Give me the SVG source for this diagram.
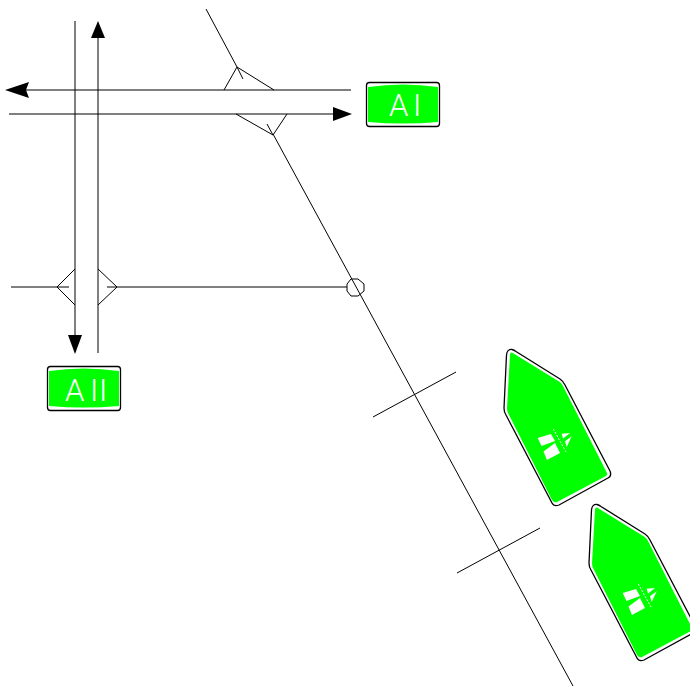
<svg xmlns="http://www.w3.org/2000/svg" width="690" height="687" viewBox="0 0 690 687">
<style>
.l{fill:none;stroke:#000;stroke-width:1}
.h{fill:#000}
.o{fill:#fff;stroke:#000;stroke-width:1.300}
.g{fill:#0f0}
.w{fill:#fff}
.t{font-family:"Roboto","Liberation Sans",sans-serif;font-weight:300;font-size:31px;fill:#fff}
</style>
<defs>
<g id="mw">
<path class="o" d="M506.500 355Q507 349 512 349.500Q514 350 516 351.500L560 379Q563 381 565 385L610 471Q612 476 608 478L559 505Q554 507 552 503L506 415Q504 412 504 408Z"/>
<path class="g" d="M512 352.500L559 381.500Q562 383 563 386L607 473Q607.500 475 606 476L557 502Q554 503 552 500L508 413Q507 411 507 408L510 355Q510 352 512 352.500Z"/>
<path class="w" d="M537.700 438L551 434L555 441L541.500 446Z"/>
<path class="w" d="M543.500 451.500L555 443L560 453L547 460Z"/>
<path class="w" d="M561.700 433.700L570 433L563 438.500Z"/>
<path class="w" d="M565 441.300L571.700 436.300L566.700 447Z"/>
<path fill="none" stroke="#fff" stroke-width="1" stroke-dasharray="2 1.500" d="M553.300 429L566 452"/>
</g>
</defs>
<g id="connectors">
<path class="l" d="M206 9L237 67M273 134L573 686"/>
<path class="l" d="M11 287H57M117 287H347"/>
<path class="l" d="M456 372L373 417M540 528L457 573"/>
<path class="l" d="M351 90H24M9 114H336"/>
<path class="l" d="M75 21V337M98 37V353"/>
<path class="l" d="M224 90L237 67L274 90M236 114L273 135L287 114M237 67L243 79M273 135L267 124"/>
<path class="l" d="M75 269L57 287L75 305M98 269L117 287L98 305M57 287H69M117 287H107"/>
<path class="l" d="M351 279L358 279L364 284L364 291L358 296L351 296L347 291L347 284Z"/>
<path class="h" d="M5 90L29 82L26 90L29 98Z"/>
<path class="h" d="M352 114L333 107V121Z"/>
<path class="h" d="M98 21L91 38H105Z"/>
<path class="h" d="M75 354L68 335H82Z"/>
</g>
<g id="sign-a1">
<rect class="o" x="366.500" y="82.500" width="73" height="44" rx="3"/>
<path class="g" d="M368 87Q403 82 438 87V122Q403 125 368 122Z"/>
<text class="t" x="389 413" y="116">AI</text>
</g>
<g id="sign-a2">
<rect class="o" x="47.500" y="366.500" width="73" height="44" rx="3"/>
<path class="g" d="M49 371Q84 366 119 371V406Q84 409 49 406Z"/>
<text class="t" x="65 90 99" y="401">AII</text>
</g>
<g id="sign-motorway-1"><use href="#mw"/></g>
<g id="sign-motorway-2"><use href="#mw" x="85" y="155"/></g>
</svg>
